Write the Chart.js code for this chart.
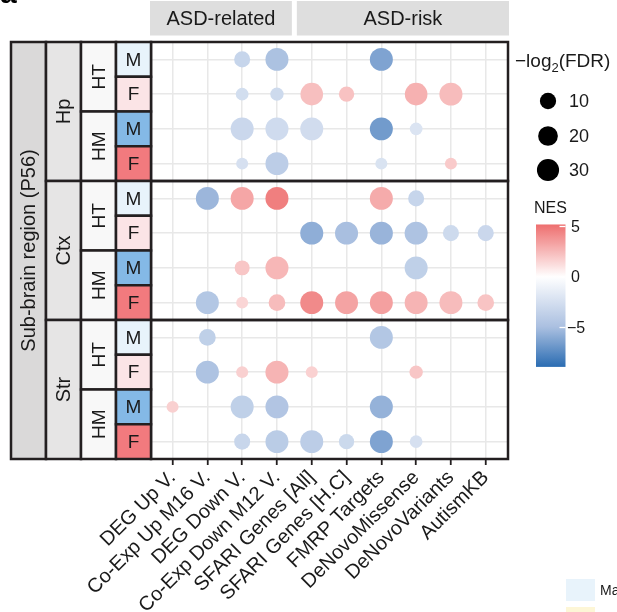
<!DOCTYPE html>
<html><head><meta charset="utf-8">
<script src="https://cdn.jsdelivr.net/npm/chart.js@4.4.1/dist/chart.umd.min.js"></script>
<style>html,body{margin:0;padding:0;background:#fff;}canvas{display:block;}</style>
</head><body>
<canvas id="c" width="617" height="612"></canvas>
<script>
// ---------- data ----------
const categories = ['DEG Up V.', 'Co-Exp Up M16 V.', 'DEG Down V.', 'Co-Exp Down M12 V.',
  'SFARI Genes [All]', 'SFARI Genes [H.C]', 'FMRP Targets', 'DeNovoMissense', 'DeNovoVariants', 'AutismKB'];
const groupNames = ['ASD-related', 'ASD-risk'];
const groupSizes = [4, 6];
const regions = ['Hp', 'Ctx', 'Str'];
const genotypes = ['HT', 'HM'];
const sexes = ['M', 'F'];
const regionTitle = 'Sub-brain region (P56)';

// NES per region: rows HT-M, HT-F, HM-M, HM-F ; columns = categories
const _ = null;
const nesHp = [
  [_, _, -3.3, -4.8, _, _, -6.3, _, _, _],
  [_, _, -2.6, -2.9, 2.3, 2.2, _, 2.8, 2.4, _],
  [_, _, -3.1, -2.8, -2.7, _, -6.7, -2.1, _, _],
  [_, _, -2.4, -3.9, _, _, -2.2, _, 1.9, _]
];
const nesCtx = [
  [_, -5.4, 3.2, 4.6, _, _, 3.0, -3.3, _, _],
  [_, _, _, _, -5.8, -5.0, -5.5, -4.7, -2.9, -3.1],
  [_, _, 2.05, 2.6, _, _, _, -3.7, _, _],
  [_, -4.4, 1.5, 2.4, 4.2, 3.3, 3.4, 2.7, 2.4, 2.1]
];
const nesStr = [
  [_, -3.7, _, _, _, _, -4.4, _, _, _],
  [_, -4.7, 1.7, 2.7, 1.65, _, _, 2.05, _, _],
  [1.7, _, -3.7, -4.5, _, _, -5.6, _, _, _],
  [_, _, -3.2, -4.0, -3.9, -3.0, -6.3, -2.4, _, _]
];
// -log2(FDR) per region, same layout
const fdrHp = [
  [_, _, 9.5, 34, _, _, 34, _, _, _],
  [_, _, 4.9, 5.4, 32, 8.1, _, 32, 34, _],
  [_, _, 34, 34, 34, _, 34, 4.9, _, _],
  [_, _, 4.5, 34, _, _, 4.5, _, 4.5, _]
];
const fdrCtx = [
  [_, 34, 34, 34, _, _, 34, 9.5, _, _],
  [_, _, _, _, 34, 34, 34, 34, 9.5, 9.5],
  [_, _, 7.6, 34, _, _, _, 34, _, _],
  [_, 34, 4.5, 11, 34, 34, 34, 34, 34, 11]
];
const fdrStr = [
  [_, 11, _, _, _, _, 34, _, _, _],
  [_, 34, 4.5, 34, 4.5, _, _, 5.4, _, _],
  [4.5, _, 34, 34, _, _, 34, _, _, _],
  [_, _, 9.5, 34, 34, 8.1, 34, 4.9, _, _]
];
const sizeBreaks = [10, 20, 30];
const nesBreaks = [5, 0, -5];
const nesLimits = [-8.9, 5.2];

// ---------- scales for size / colour ----------
function sizeFn(v) { return 5.5 + 1.1 * Math.sqrt(Math.max(0, v - 4.3)); }
const colStops = [[-8.9, [42, 108, 178]], [-5, [169, 191, 224]], [0, [255, 255, 255]], [5.2, [238, 110, 110]]];
function nesColor(v) {
  if (v <= colStops[0][0]) return 'rgb(' + colStops[0][1].join(',') + ')';
  for (let i = 0; i < colStops.length - 1; i++) {
    const a = colStops[i], b = colStops[i + 1];
    if (v <= b[0]) {
      const t = (v - a[0]) / (b[0] - a[0]);
      const c = a[1].map((q, k) => Math.round(q + (b[1][k] - q) * t));
      return 'rgb(' + c.join(',') + ')';
    }
  }
  return 'rgb(' + colStops[colStops.length - 1][1].join(',') + ')';
}

// ---------- build points ----------
const nesAll = [nesHp, nesCtx, nesStr];
const fdrAll = [fdrHp, fdrCtx, fdrStr];
const points = [];
regions.forEach((reg, ri) => {
  for (let k = 0; k < 4; k++) {
    const row = ri * 4 + k;
    categories.forEach((cat, ci) => {
      const n = nesAll[ri][k][ci], f = fdrAll[ri][k][ci];
      if (n !== null && f !== null) points.push({ x: ci, y: row, r: sizeFn(f), nes: n });
    });
  }
});

const FONT = 'Liberation Sans, Arial, Helvetica, sans-serif';
Chart.defaults.font.family = FONT;
const DARK = '#231f20';

const decor = {
  id: 'decor',
  beforeDraw(chart) {
    const c = chart.ctx;
    c.save(); c.fillStyle = '#fff'; c.fillRect(0, 0, chart.width, chart.height); c.restore();
  },
  afterDraw(chart) {
    const c = chart.ctx, ca = chart.chartArea, xs = chart.scales.x, ys = chart.scales.y;
    c.save();
    // panel borders
    c.strokeStyle = DARK; c.lineWidth = 2.5;
    regions.forEach((r, p) => {
      const t = ys.getPixelForValue(p * 4 - 0.5), b = ys.getPixelForValue(p * 4 + 3.5);
      c.strokeRect(ca.left, t, ca.right - ca.left, b - t);
    });
    // strip helper
    function cell(x0, y0, x1, y1, fill, text, rot, size) {
      c.fillStyle = fill; c.fillRect(x0, y0, x1 - x0, y1 - y0);
      c.strokeStyle = DARK; c.lineWidth = 2.5; c.strokeRect(x0, y0, x1 - x0, y1 - y0);
      c.save();
      c.translate((x0 + x1) / 2, (y0 + y1) / 2);
      if (rot) c.rotate(-Math.PI / 2);
      c.fillStyle = '#1a1a1a'; c.font = size + 'px ' + FONT;
      c.textAlign = 'center'; c.textBaseline = 'middle';
      c.fillText(text, 0, 1);
      c.restore();
    }
    const sw = 35;
    const xD = ca.left - sw, xC = ca.left - 2 * sw, xB = ca.left - 3 * sw, xA = ca.left - 4 * sw;
    const top = ys.getPixelForValue(-0.5), bot = ys.getPixelForValue(11.5);
    cell(xA, top, xB, bot, '#dad9d9', regionTitle, true, 20);
    regions.forEach((reg, ri) => {
      cell(xB, ys.getPixelForValue(ri * 4 - 0.5), xC, ys.getPixelForValue(ri * 4 + 3.5), '#e6e5e5', reg, true, 20);
      genotypes.forEach((g, gi) => {
        const r0 = ri * 4 + gi * 2;
        cell(xC, ys.getPixelForValue(r0 - 0.5), xD, ys.getPixelForValue(r0 + 1.5), '#f8f8f8', g, true, 19);
        sexes.forEach((s, si) => {
          const row = r0 + si;
          const fill = gi === 0 ? (si === 0 ? '#e8f3fb' : '#fbe4e6') : (si === 0 ? '#84b9e6' : '#f27a7e');
          cell(xD, ys.getPixelForValue(row - 0.5), ca.left, ys.getPixelForValue(row + 0.5), fill, s, false, 19);
        });
      });
    });
    // top strips
    let start = 0;
    groupNames.forEach((gname, gi) => {
      const end = start + groupSizes[gi];
      const x0 = gi === 0 ? ca.left - 1 : xs.getPixelForValue(start - 0.5) + 2.5;
      const x1 = gi === groupNames.length - 1 ? ca.right + 1 : xs.getPixelForValue(end - 0.5) - 2.5;
      c.fillStyle = '#dedede'; c.fillRect(x0, 1, x1 - x0, 34.5);
      c.fillStyle = '#1a1a1a'; c.font = '20px ' + FONT; c.textAlign = 'center'; c.textBaseline = 'middle';
      c.fillText(gname, (x0 + x1) / 2, 19);
      start = end;
    });
    // panel tag (cropped)
    c.fillStyle = '#000'; c.font = 'bold 30px ' + FONT; c.textAlign = 'left'; c.textBaseline = 'alphabetic';
    c.fillText('a', 0, 3);
    // size legend
    c.fillStyle = '#1a1a1a'; c.textBaseline = 'alphabetic';
    c.font = '19px ' + FONT;
    let tx = 515;
    c.fillText('\u2212log', tx, 67); tx += c.measureText('\u2212log').width;
    c.font = '13px ' + FONT; c.fillText('2', tx, 72); tx += c.measureText('2').width;
    c.font = '19px ' + FONT; c.fillText('(FDR)', tx, 67);
    const ly = [101, 136, 170];
    sizeBreaks.forEach((b, i) => {
      c.beginPath(); c.fillStyle = '#000'; c.arc(548, ly[i], sizeFn(b), 0, Math.PI * 2); c.fill();
      c.fillStyle = '#1a1a1a'; c.font = '18px ' + FONT; c.textBaseline = 'middle'; c.textAlign = 'left';
      c.fillText(String(b), 569, ly[i] + 1);
    });
    // colour bar
    const cbX = 536, cbW = 29.5;
    const vpix = v => 277 - v * 10.1;
    const gTop = vpix(nesLimits[1]), gBot = vpix(nesLimits[0]);
    const grad = c.createLinearGradient(0, gTop, 0, gBot);
    for (let i = 0; i <= 60; i++) {
      const v = nesLimits[1] - (nesLimits[1] - nesLimits[0]) * i / 60;
      grad.addColorStop(i / 60, nesColor(v));
    }
    c.fillStyle = grad; c.fillRect(cbX, gTop, cbW, gBot - gTop);
    c.strokeStyle = '#fff'; c.lineWidth = 1.3;
    nesBreaks.forEach(b => {
      const y = vpix(b);
      c.beginPath(); c.moveTo(cbX + cbW - 6, y); c.lineTo(cbX + cbW, y); c.stroke();
      c.fillStyle = '#1a1a1a'; c.font = '16px ' + FONT; c.textBaseline = 'middle'; c.textAlign = 'left';
      c.fillText(b < 0 ? '\u2212' + Math.abs(b) : String(b), b < 0 ? 567 : 571, y + 1);
    });
    c.fillStyle = '#1a1a1a'; c.font = '16px ' + FONT; c.textBaseline = 'middle'; c.textAlign = 'left';
    c.fillText('NES', 534, 209);
    // cropped legend in bottom-right corner
    c.fillStyle = '#e8f3fb'; c.fillRect(566, 579, 29, 22);
    c.fillStyle = '#fdf6d6'; c.fillRect(566, 607, 29, 6);
    c.fillStyle = '#1a1a1a'; c.font = '14px ' + FONT; c.textBaseline = 'middle';
    c.fillText('Male', 600, 591);
    c.restore();
  }
};

new Chart(document.getElementById('c'), {
  type: 'bubble',
  data: {
    datasets: [{
      data: points,
      backgroundColor: ctx => nesColor(ctx.raw ? ctx.raw.nes : 0),
      borderWidth: 0,
      hoverRadius: 0,
      clip: false
    }]
  },
  options: {
    responsive: false,
    animation: false,
    events: [],
    layout: { padding: { left: 0, top: 42, right: 109, bottom: 0 } },
    plugins: { legend: { display: false }, tooltip: { enabled: false } },
    scales: {
      x: {
        type: 'linear', min: -0.62, max: 9.64,
        afterBuildTicks: s => { s.ticks = categories.map((c, i) => ({ value: i })); },
        afterFit: s => { s.height = 153; s.paddingLeft = 0; s.paddingRight = 0; },
        grid: { color: '#e8e8e8', lineWidth: 1.5, drawTicks: true, tickLength: 6, tickColor: DARK, tickWidth: 1.8 },
        border: { display: false },
        ticks: {
          autoSkip: false, minRotation: 45, maxRotation: 45, padding: 1,
          color: '#1a1a1a', font: { size: 20, family: FONT },
          callback: v => categories[v]
        }
      },
      y: {
        type: 'linear', min: -0.5, max: 11.5, reverse: true,
        afterBuildTicks: s => { const t = []; for (let i = 0; i < 12; i++) t.push({ value: i }); s.ticks = t; },
        afterFit: s => { s.width = 151; },
        grid: { color: '#e8e8e8', lineWidth: 1.5, drawTicks: false },
        border: { display: false },
        ticks: { display: false }
      }
    }
  },
  plugins: [decor]
});
</script>
</body></html>
